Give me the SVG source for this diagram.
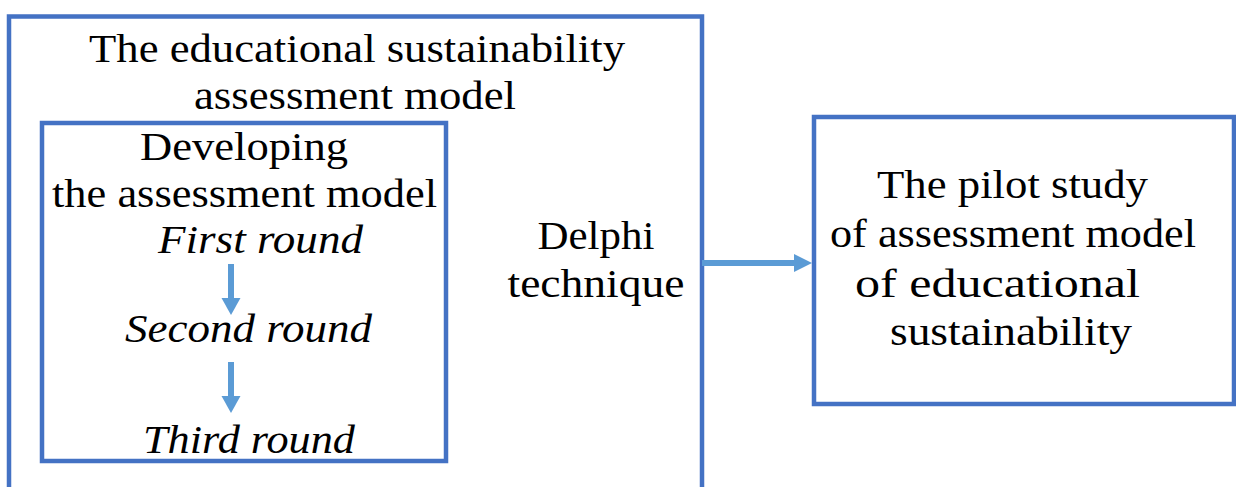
<svg xmlns="http://www.w3.org/2000/svg" width="1236" height="487" viewBox="0 0 1236 487">
<style>
.box{fill:none;stroke:#4472C4;stroke-width:4.5}
.t{font-family:'Liberation Serif',serif;font-size:40px;fill:#000;text-anchor:middle}
.i{font-style:italic}
.ar{stroke:#5B9BD5;stroke-width:6;fill:none}
.ah{fill:#5B9BD5}
</style>
<g id="outer">
<rect class="box" x="9" y="16.5" width="693" height="490"/>
<text class="t" x="357" y="62" textLength="536" lengthAdjust="spacingAndGlyphs">The educational sustainability</text>
<text class="t" x="355" y="109" textLength="322" lengthAdjust="spacingAndGlyphs">assessment model</text>
<text class="t" x="596" y="249" textLength="117" lengthAdjust="spacingAndGlyphs">Delphi</text>
<text class="t" x="596" y="297" textLength="177" lengthAdjust="spacingAndGlyphs">technique</text>
</g>
<g id="inner">
<rect class="box" x="42" y="123" width="404" height="338"/>
<text class="t" x="244" y="160" textLength="208" lengthAdjust="spacingAndGlyphs">Developing</text>
<text class="t" x="244.5" y="207" textLength="385" lengthAdjust="spacingAndGlyphs">the assessment model</text>
</g>
<g id="first"><text class="t i" x="260.5" y="253" textLength="205" lengthAdjust="spacingAndGlyphs">First round</text></g>
<g id="second"><text class="t i" x="248.5" y="342" textLength="247" lengthAdjust="spacingAndGlyphs">Second round</text></g>
<g id="third"><text class="t i" x="249" y="453" textLength="212" lengthAdjust="spacingAndGlyphs">Third round</text></g>
<g id="pilot">
<rect class="box" x="814" y="117" width="420" height="287"/>
<text class="t" x="1012.5" y="198" textLength="271" lengthAdjust="spacingAndGlyphs">The pilot study</text>
<text class="t" x="1013" y="247" textLength="366" lengthAdjust="spacingAndGlyphs">of assessment model</text>
<text class="t" x="997.5" y="297" textLength="285" lengthAdjust="spacingAndGlyphs">of educational</text>
<text class="t" x="1011" y="345" textLength="242" lengthAdjust="spacingAndGlyphs">sustainability</text>
</g>
<g id="connectors">
<line class="ar" x1="231" y1="264" x2="231" y2="299"/>
<polygon class="ah" points="221.5,298 240.5,298 231,315"/>
<line class="ar" x1="231" y1="362" x2="231" y2="397"/>
<polygon class="ah" points="221.5,396 240.5,396 231,413"/>
<line class="ar" x1="702" y1="263" x2="795" y2="263"/>
<polygon class="ah" points="794,254 794,272 812,263"/>
</g>
</svg>
